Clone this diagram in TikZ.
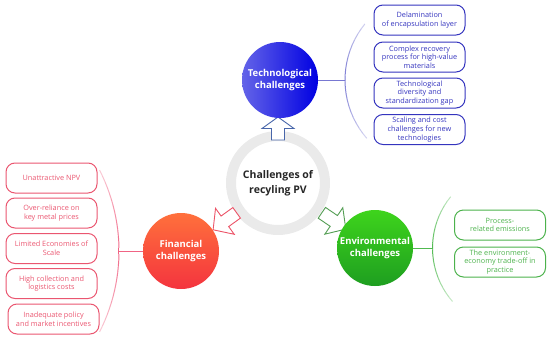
\documentclass[tikz,border=0pt]{standalone}
\usepackage{fontspec}
\setmainfont{Open Sans}
\usepackage{tikz}
\usetikzlibrary{calc}
\definecolor{Ring}{RGB}{234,234,234}
\definecolor{TechLight}{RGB}{100,100,232}
\definecolor{TechDark}{RGB}{0,0,226}
\definecolor{FinLight}{RGB}{255,112,60}
\definecolor{FinDark}{RGB}{244,52,62}
\definecolor{EnvLight}{RGB}{62,212,28}
\definecolor{EnvDark}{RGB}{30,158,32}
\definecolor{TechBox}{RGB}{52,52,190}
\definecolor{FinBox}{RGB}{234,86,112}
\definecolor{EnvBox}{RGB}{76,178,76}
\definecolor{TechArrow}{RGB}{72,102,170}
\definecolor{FinArrow}{RGB}{236,84,104}
\definecolor{EnvArrow}{RGB}{84,158,84}
\definecolor{TechArc}{RGB}{120,120,210}
\definecolor{FinArc}{RGB}{240,100,132}
\definecolor{EnvArc}{RGB}{80,186,80}

% hollow block arrow leaving the ring: angle, colour, tail radius, length
\newcommand{\hollowarrow}[4]{%
  \draw[#2, line width=0.9pt, fill=white, line join=miter, shift={(ring.center)}, rotate=#1]
    (#3,-6.5) -- ({#3+#4*0.5},-6.5) -- ({#3+#4*0.5},-16) -- ({#3+#4},0)
    -- ({#3+#4*0.5},16) -- ({#3+#4*0.5},6.5) -- (#3,6.5) -- cycle;}

\begin{document}
\begin{tikzpicture}[x=1pt,y=-1pt,
  itembox/.style={draw=#1, text=#1, line width=1pt, rounded corners=9pt,
    minimum width=91pt, minimum height=30pt, inner sep=1pt, align=center,
    font=\fontsize{7.3}{8.7}\selectfont},
  hub/.style={circle, minimum size=76pt, inner sep=0pt, text=white, align=center,
    font=\bfseries\fontsize{9.5}{12}\selectfont}]

\useasboundingbox (0,0) rectangle (550,346);

% centre ring
\node[circle, draw=Ring, line width=10pt, minimum size=94pt, align=center,
  text=black!85, font=\bfseries\fontsize{10.5}{15}\selectfont] (ring) at (278,183)
  {Challenges of\\recyling PV};

% arrows
\hollowarrow{90}{TechArrow}{43}{23}
\hollowarrow{215.8}{FinArrow}{51}{29}
\hollowarrow{-34.2}{EnvArrow}{53}{29}

% main challenges
\node[hub, left color=TechLight, right color=TechDark] (tech) at (280,80) {Technological\\challenges};
\node[hub, top color=FinLight, bottom color=FinDark] (fin) at (181,251) {Financial\\challenges};
\node[hub, top color=EnvLight, bottom color=EnvDark] (env) at (375,248) {Environmental\\challenges};

% brackets
\coordinate (tc) at (434,80);
\coordinate (fc) at (-59,251);
\coordinate (ec) at (514,248);
\foreach \a [evaluate=\a as \b using \a+4, evaluate=\a as \k using {100-1.7*abs(\a+2-180)}] in {139,143,...,217}
  \draw[TechArc!\k!white, line width=1pt] ($(tc)+(\a:89)$) -- ($(tc)+(\b:89)$);
\foreach \a [evaluate=\a as \b using \a+2, evaluate=\a as \k using {100-2.5*abs(\a+1)}] in {-27,-25,...,25}
  \draw[FinArc!\k!white, line width=1pt] ($(fc)+(\a:178)$) -- ($(fc)+(\b:178)$);
\foreach \a [evaluate=\a as \b using \a+4, evaluate=\a as \k using {100-1.7*abs(\a+2-180)}] in {139,143,...,217}
  \draw[EnvArc!\k!white, line width=1pt] ($(ec)+(\a:81.5)$) -- ($(ec)+(\b:81.5)$);
\coordinate (techarc) at ($(tc)+(180:89)$);
\coordinate (finarc) at ($(fc)+(0:178)$);
\coordinate (envarc) at ($(ec)+(180:81.5)$);

\draw[TechArc, line width=1pt] (tech.east) -- (techarc);
\draw[FinArc, line width=1pt] (fin.west) -- (finarc);
\draw[EnvArc, line width=1pt] (env.east) -- (envarc);

% technological
\node[itembox=TechBox] (t1) at (419.5,20) {Delamination\\of encapsulation layer};
\node[itembox=TechBox] (t2) at (419.5,57) {Complex recovery\\process for high-value\\materials};
\node[itembox=TechBox] (t3) at (419.5,93) {Technological\\diversity and\\standardization gap};
\node[itembox=TechBox] (t4) at (419.5,129.5) {Scaling and cost\\challenges for new\\technologies};

% financial
\node[itembox=FinBox] (f1) at (51.5,178) {Unattractive NPV};
\node[itembox=FinBox] (f2) at (51.5,213) {Over-reliance on\\key metal prices};
\node[itembox=FinBox] (f3) at (51.5,248.5) {Limited Economies of\\Scale};
\node[itembox=FinBox] (f4) at (51.5,283.5) {High collection and\\logistics costs};
\node[itembox=FinBox] (f5) at (53.5,319) {Inadequate policy\\and market incentives};

% environmental
\node[itembox=EnvBox] (e1) at (500,225) {Process-\\related emissions};
\node[itembox=EnvBox] (e2) at (500,262) {The environment-\\economy trade-off in\\practice};
\end{tikzpicture}
\end{document}
